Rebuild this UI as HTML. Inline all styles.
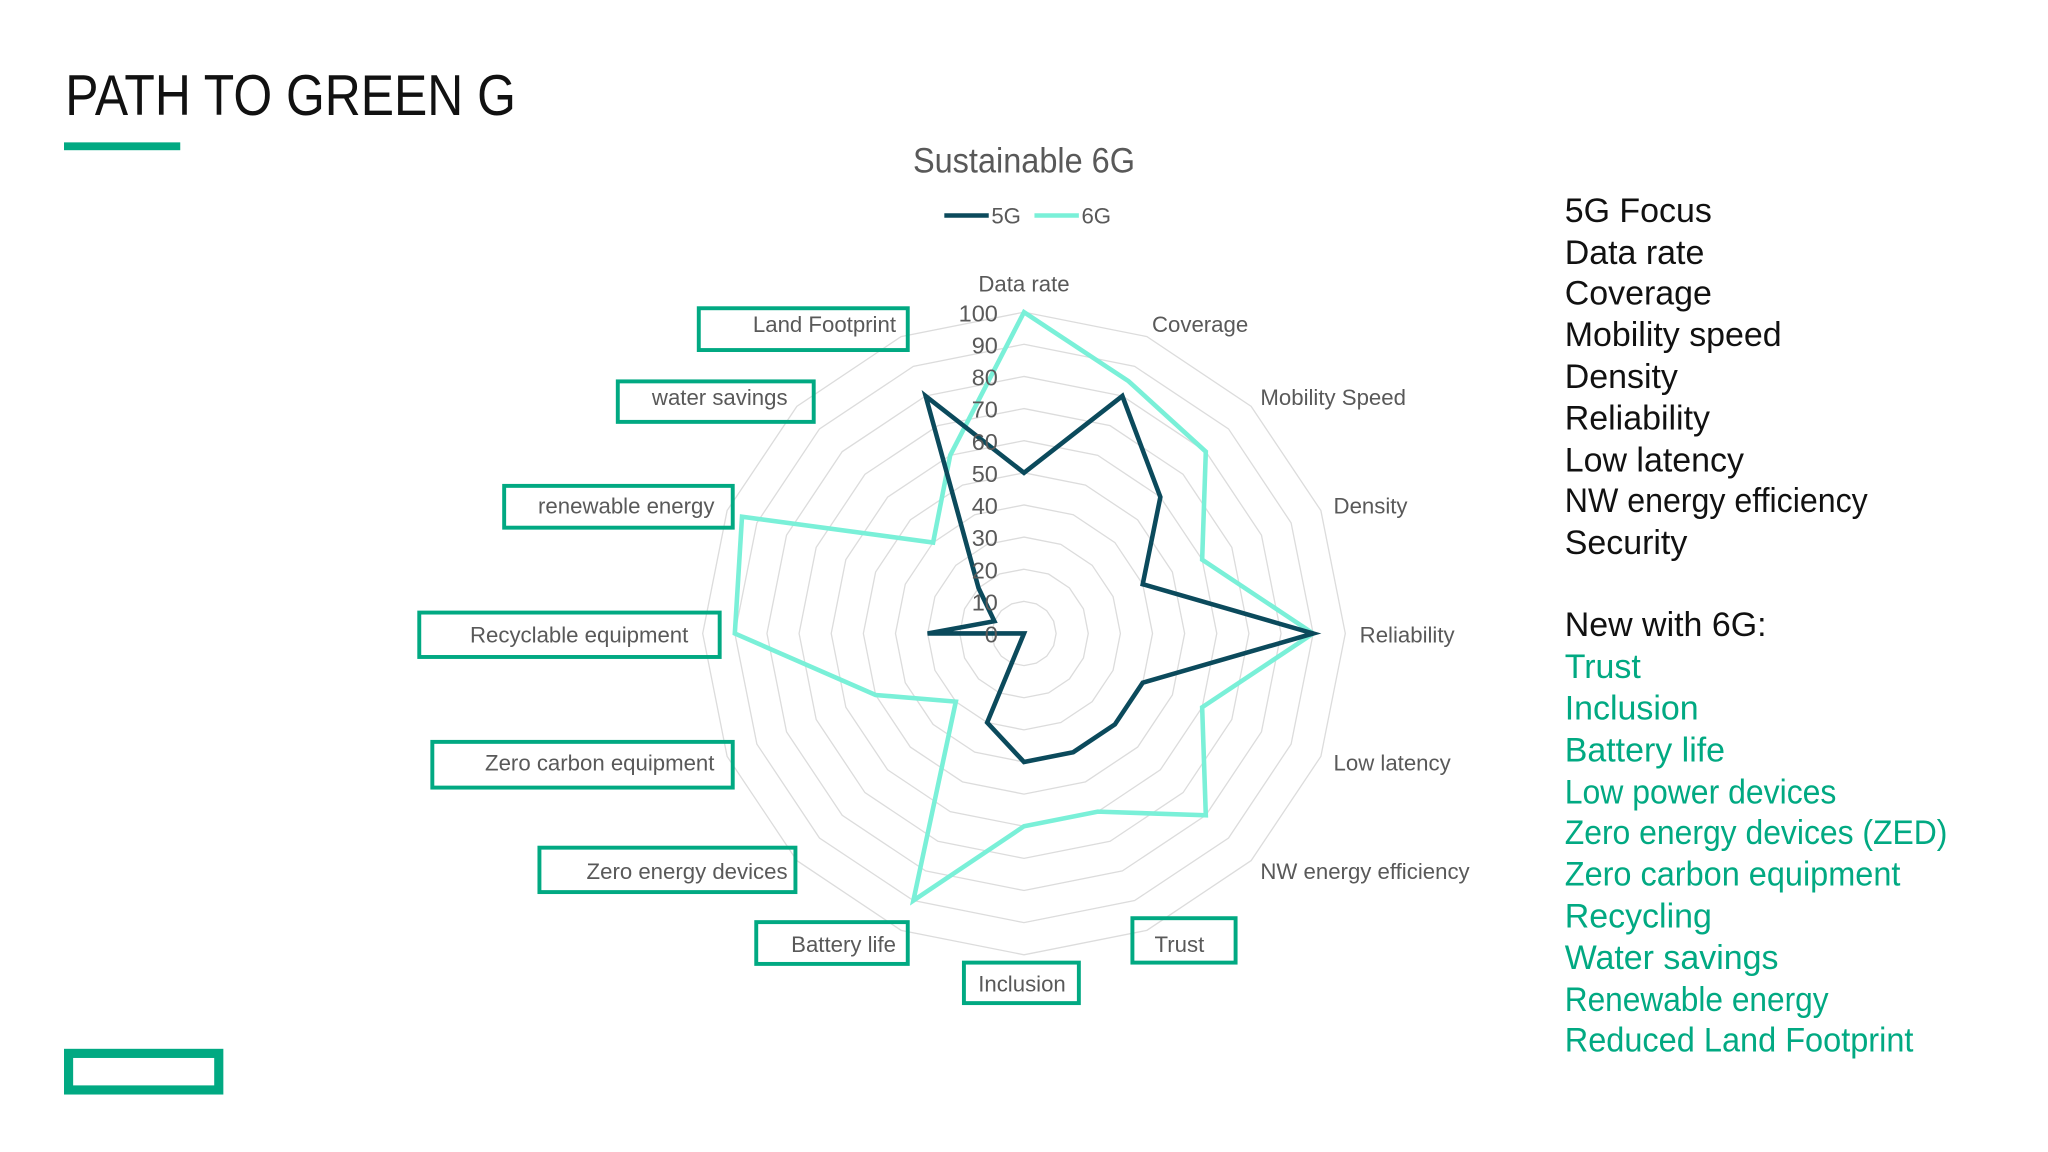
<!DOCTYPE html>
<html><head><meta charset="utf-8"><style>
html,body{margin:0;padding:0;background:#fff;}
svg{display:block;}
text{font-family:"Liberation Sans",sans-serif;}
</style></head><body>
<svg id="s" width="2048" height="1152" viewBox="0 0 1568 882" xmlns="http://www.w3.org/2000/svg">
<rect width="1568" height="882" fill="#fff"/>
<text x="50" y="88" font-size="44" fill="#111" textLength="345" lengthAdjust="spacingAndGlyphs">PATH TO GREEN G</text>
<rect x="49" y="109" width="89" height="6" fill="#01a982"/>
<rect x="52.5" y="806.5" width="115" height="28" fill="none" stroke="#01a982" stroke-width="7"/>
<text x="784" y="132" font-size="27" fill="#595959" text-anchor="middle" textLength="170" lengthAdjust="spacingAndGlyphs">Sustainable 6G</text>
<line x1="723" y1="165" x2="757" y2="165" stroke="#0b4a5c" stroke-width="3.5"/>
<text x="759" y="171" font-size="17" fill="#595959">5G</text>
<line x1="792" y1="165" x2="826" y2="165" stroke="#7af0d8" stroke-width="3.5"/>
<text x="828" y="171" font-size="17" fill="#595959">6G</text>
<g id="grid"></g>
<g font-size="17" fill="#595959">
<text x="784" y="223" text-anchor="middle">Data rate</text>
<text x="882" y="254">Coverage</text>
<text x="965" y="310">Mobility Speed</text>
<text x="1021" y="393">Density</text>
<text x="1041" y="492">Reliability</text>
<text x="1021" y="590">Low latency</text>
<text x="965" y="673">NW energy efficiency</text>
</g>
<g fill="none" stroke="#01a982" stroke-width="3">
<rect x="535" y="236" width="160" height="32"/>
<rect x="473" y="292" width="150" height="31"/>
<rect x="386" y="372" width="175" height="32"/>
<rect x="321" y="469" width="230" height="34"/>
<rect x="331" y="568" width="230" height="35"/>
<rect x="413" y="649" width="196" height="34"/>
<rect x="579" y="706" width="116" height="32"/>
<rect x="738" y="737" width="88" height="31"/>
<rect x="867" y="703" width="79" height="34"/>
</g>
<g font-size="17" fill="#595959" text-anchor="end">
<text x="686" y="254">Land Footprint</text>
<text x="603" y="310">water savings</text>
<text x="547" y="393">renewable energy</text>
<text x="527" y="492">Recyclable equipment</text>
<text x="547" y="590">Zero carbon equipment</text>
<text x="603" y="673">Zero energy devices</text>
<text x="686" y="729">Battery life</text>
<text x="816" y="759">Inclusion</text>
<text x="922" y="729">Trust</text>
</g>
<g id="series"></g>
<g id="scale" font-size="18" fill="#595959" text-anchor="end"></g>
<g font-size="26" fill="#111">
<text x="1198" y="170">5G Focus</text>
<text x="1198" y="202">Data rate</text>
<text x="1198" y="233">Coverage</text>
<text x="1198" y="265">Mobility speed</text>
<text x="1198" y="297">Density</text>
<text x="1198" y="329">Reliability</text>
<text x="1198" y="361">Low latency</text>
<text x="1198" y="392" textLength="232" lengthAdjust="spacingAndGlyphs">NW energy efficiency</text>
<text x="1198" y="424">Security</text>
<text x="1198" y="487">New with 6G:</text>
</g>
<g font-size="26" fill="#01a982">
<text x="1198" y="519">Trust</text>
<text x="1198" y="551">Inclusion</text>
<text x="1198" y="583">Battery life</text>
<text x="1198" y="615" textLength="208" lengthAdjust="spacingAndGlyphs">Low power devices</text>
<text x="1198" y="646" textLength="293" lengthAdjust="spacingAndGlyphs">Zero energy devices (ZED)</text>
<text x="1198" y="678" textLength="257" lengthAdjust="spacingAndGlyphs">Zero carbon equipment</text>
<text x="1198" y="710">Recycling</text>
<text x="1198" y="742">Water savings</text>
<text x="1198" y="774" textLength="202" lengthAdjust="spacingAndGlyphs">Renewable energy</text>
<text x="1198" y="805" textLength="267" lengthAdjust="spacingAndGlyphs">Reduced Land Footprint</text>
</g>
</svg>
<script>
var cx=784,cy=485,R=246,N=16;
function pt(i,v){var a=i*2*Math.PI/N,r=R*v/100;return [cx+r*Math.sin(a),cy-r*Math.cos(a)];}
var g=document.getElementById('grid'),h='';
for(var k=1;k<=10;k++){var p=[];for(var i=0;i<N;i++)p.push(pt(i,k*10).map(function(z){return z.toFixed(1)}).join(','));h+='<polygon points="'+p.join(' ')+'" fill="none" stroke="#dcdcdc" stroke-width="1"/>';}
g.innerHTML=h;
var s=document.getElementById('scale'),t='';
for(var k=0;k<=10;k++){t+='<text x="764" y="'+(cy-R*k/10+7).toFixed(1)+'">'+(k*10)+'</text>';}
s.innerHTML=t;
var d5=[50,80,60,40,90,40,40,40,40,30,0,0,30,10,20,80];
var d6=[100,85,80,60,90,60,80,60,60,90,30,50,90,95,40,60];
function poly(d,c){var p=[];for(var i=0;i<N;i++)p.push(pt(i,d[i]).map(function(z){return z.toFixed(1)}).join(','));return '<polygon points="'+p.join(' ')+'" fill="none" stroke="'+c+'" stroke-width="3.5" stroke-linejoin="miter"/>';}
document.getElementById('series').innerHTML=poly(d6,'#7af0d8')+poly(d5,'#0b4a5c');
</script>
</body></html>
